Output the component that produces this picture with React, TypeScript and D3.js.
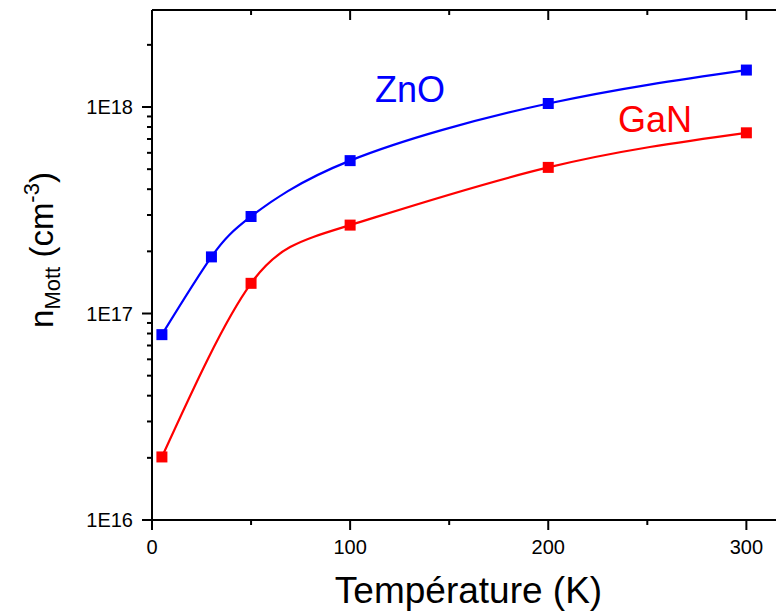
import React from "react";
import * as d3 from "d3";

const temperatures = [5, 30, 50, 100, 200, 300];
const znoValues = [7.9e16, 1.88e17, 2.95e17, 5.5e17, 1.04e18, 1.51e18];
const ganTemps = [5, 50, 100, 200, 300];
const ganValues = [2.02e16, 1.4e17, 2.68e17, 5.1e17, 7.5e17];
const xMajorTicks = [0, 100, 200, 300];
const xMinorTicks = [50, 150, 250];
const yMajorTicks = [1e16, 1e17, 1e18];
const yTickLabels = ["1E16", "1E17", "1E18"];

const W = 776;
const H = 612;
const left = 152;
const right = 786;
const top = 10;
const bottom = 520;
const FONT = "Arial, 'Liberation Sans', sans-serif";

export default function App() {
  const x = d3.scaleLinear().domain([0, 320]).range([left, right]);
  const y = d3.scaleLog().domain([1e16, 2.95e18]).range([bottom, top]);

  const yMinor: number[] = [];
  for (let e = 16; e <= 18; e++) {
    for (let m = 2; m <= 9; m++) {
      const v = m * Math.pow(10, e);
      if (v <= 2.95e18) yMinor.push(v);
    }
  }

  const line = d3
    .line<[number, number]>()
    .x((d) => x(d[0]))
    .y((d) => y(d[1]))
    .curve(d3.curveNatural);

  const zno: [number, number][] = temperatures.map((t, i) => [t, znoValues[i]]);
  const gan: [number, number][] = ganTemps.map((t, i) => [t, ganValues[i]]);
  const ms = 11;

  return (
    <svg width={W} height={H} style={{ position: "absolute", left: 0, top: 0, background: "#fff" }}>
      {/* axes frame */}
      <g stroke="#000" strokeWidth={2} fill="none">
        <line x1={left} y1={top} x2={right} y2={top} />
        <line x1={left} y1={bottom} x2={right} y2={bottom} />
        <line x1={left} y1={top} x2={left} y2={bottom + 1} />
        <line x1={right} y1={top} x2={right} y2={bottom} />
        {/* x ticks */}
        {xMajorTicks.map((t) => (
          <g key={"xm" + t}>
            <line x1={x(t)} x2={x(t)} y1={bottom} y2={bottom + 10} />
            <line x1={x(t)} x2={x(t)} y1={top} y2={top + 10} />
          </g>
        ))}
        {xMinorTicks.map((t) => (
          <g key={"xn" + t}>
            <line x1={x(t)} x2={x(t)} y1={bottom} y2={bottom + 5} />
            <line x1={x(t)} x2={x(t)} y1={top} y2={top + 5} />
          </g>
        ))}
        {/* y ticks */}
        {yMajorTicks.map((t) => (
          <g key={"ym" + t}>
            <line x1={left - 10} x2={left} y1={y(t)} y2={y(t)} />
            <line x1={right - 10} x2={right} y1={y(t)} y2={y(t)} />
          </g>
        ))}
        {yMinor.map((t) => (
          <g key={"yn" + t}>
            <line x1={left - 5} x2={left} y1={y(t)} y2={y(t)} />
            <line x1={right - 5} x2={right} y1={y(t)} y2={y(t)} />
          </g>
        ))}
      </g>
      {/* tick labels */}
      <g fontFamily={FONT} fontSize={20} fill="#000">
        {xMajorTicks.map((t) => (
          <text key={"xl" + t} x={x(t)} y={554} textAnchor="middle">
            {t}
          </text>
        ))}
        {yMajorTicks.map((t, i) => (
          <text key={"yl" + t} x={133} y={y(t) + 7} textAnchor="end">
            {yTickLabels[i]}
          </text>
        ))}
      </g>
      {/* axis titles */}
      <text x={468.5} y={603} textAnchor="middle" fontFamily={FONT} fontSize={37} fill="#000">
        Température (K)
      </text>
      <text
        transform="translate(53,250) rotate(-90)"
        textAnchor="middle"
        fontFamily={FONT}
        fontSize={33}
        fill="#000"
      >
        n<tspan fontSize={22} dy={7}>Mott</tspan>
        <tspan dy={-7}> (cm</tspan>
        <tspan fontSize={22} dy={-14}>-3</tspan>
        <tspan dy={14}>)</tspan>
      </text>
      {/* curves */}
      <path d={line(zno) || ""} fill="none" stroke="#0000ff" strokeWidth={2.2} />
      <path d={line(gan) || ""} fill="none" stroke="#ff0000" strokeWidth={2.2} />
      {zno.map((d, i) => (
        <rect key={"zm" + i} x={x(d[0]) - ms / 2} y={y(d[1]) - ms / 2} width={ms} height={ms} fill="#0000ff" />
      ))}
      {gan.map((d, i) => (
        <rect key={"gm" + i} x={x(d[0]) - ms / 2} y={y(d[1]) - ms / 2} width={ms} height={ms} fill="#ff0000" />
      ))}
      {/* labels */}
      <text x={375} y={102} fontFamily={FONT} fontSize={36} fill="#0000ff">
        ZnO
      </text>
      <text x={618} y={132} fontFamily={FONT} fontSize={36} fill="#ff0000">
        GaN
      </text>
    </svg>
  );
}
